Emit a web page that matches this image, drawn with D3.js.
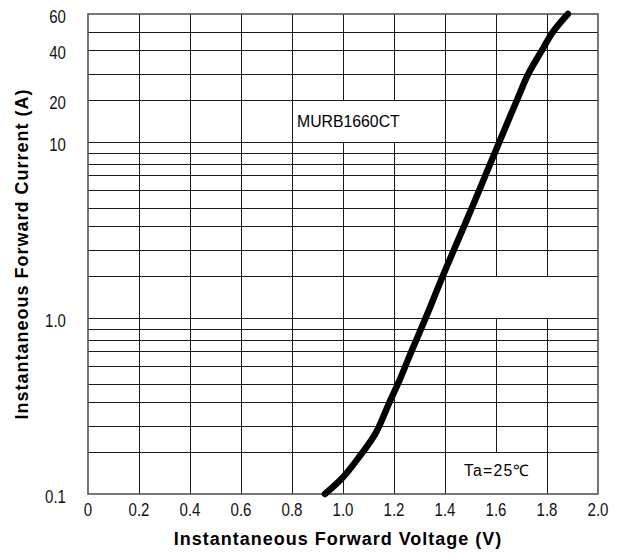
<!DOCTYPE html>
<html>
<head>
<meta charset="utf-8">
<script src="https://cdn.jsdelivr.net/npm/d3@7"></script>
<style>
  body { margin: 0; background: #fff; }
  .tick-label { font-family: "Liberation Sans", Arial, sans-serif; font-size: 17.5px; fill: #111; }
  .title { font-family: "Liberation Sans", Arial, sans-serif; font-size: 18px; font-weight: bold; letter-spacing: 1px; fill: #000; }
  .note { font-family: "Liberation Sans", Arial, sans-serif; font-size: 15.8px; fill: #000; }
</style>
</head>
<body>
<script>
// forward voltage (V) vs instantaneous current (A)
const voltage = [0.929, 1.0, 1.065, 1.127, 1.182, 1.222, 1.271, 1.324, 1.353, 1.391, 1.435, 1.506, 1.559, 1.613, 1.682, 1.727, 1.78, 1.824, 1.882];
const current = [0.1, 0.14, 0.19, 0.27, 0.40, 0.52, 0.71, 1.0, 1.43, 2.0, 3.0, 5.0, 7.0, 10, 20, 30, 40, 50, 60];

const xTicks = [0, 0.2, 0.4, 0.6, 0.8, 1.0, 1.2, 1.4, 1.6, 1.8, 2.0];
const xTickLabels = ["0", "0.2", "0.4", "0.6", "0.8", "1.0", "1.2", "1.4", "1.6", "1.8", "2.0"];
const yTicks = [0.1, 1, 10, 20, 40, 60];
const yTickLabels = ["0.1", "1.0", "10", "20", "40", "60"];
const yGrid = [0.1, 0.2, 0.3, 0.4, 0.5, 0.6, 0.7, 0.8, 0.9, 1, 2, 3, 4, 5, 6, 7, 8, 9, 10, 20, 30, 40, 50, 60];

// cells where the vertical grid line is left out (under the labels)
const gridGaps = [
  { v: 1.0, lo: 10, hi: 20 },
  { v: 1.2, lo: 10, hi: 20 },
  { v: 1.6, lo: 1, hi: 2 },
  { v: 1.8, lo: 1, hi: 2 },
  { v: 1.6, lo: 0.1, hi: 0.2 },
];

const width = 622, height = 554;
const margin = { top: 14, right: 24, bottom: 60, left: 88 };

const svg = d3.select("body").append("svg")
  .attr("width", width)
  .attr("height", height);

const x = d3.scaleLinear()
  .domain([0, 2])
  .range([margin.left, width - margin.right]);

// the printed log grid is not a true log: the spacing inside each decade is its own
const mant = d3.scaleLinear()
  .domain([1, 2, 3, 4, 5, 6, 7, 8, 9, 10])
  .range([0, 0.238, 0.388, 0.521, 0.628, 0.728, 0.813, 0.875, 0.9375, 1]);
const decades = v => {
  const e = Math.floor(Math.log10(v) + 1e-9);
  return e + mant(v / Math.pow(10, e));
};
const yUnits = d3.scaleLinear()
  .domain([decades(0.1), decades(60)])
  .range([height - margin.bottom, margin.top]);
const y = v => yUnits(decades(v));

const crisp = p => Math.round(p) + 0.5;

/* grid */
const grid = svg.append("g").attr("stroke", "#1a1a1a").attr("stroke-width", 1);

grid.selectAll("line.h")
  .data(yGrid.slice(1, -1))
  .enter().append("line")
  .attr("class", "h")
  .attr("x1", x(0)).attr("x2", x(2))
  .attr("y1", d => crisp(y(d))).attr("y2", d => crisp(y(d)));

// vertical lines split around the gaps
const vSegments = [];
xTicks.slice(1, -1).forEach(v => {
  const gaps = gridGaps.filter(g => Math.abs(g.v - v) < 1e-6).sort((a, b) => a.lo - b.lo);
  let from = 0.1;
  gaps.forEach(g => {
    if (g.lo > from) vSegments.push({ v, lo: from, hi: g.lo });
    from = g.hi;
  });
  vSegments.push({ v, lo: from, hi: 60 });
});

grid.selectAll("line.v")
  .data(vSegments)
  .enter().append("line")
  .attr("class", "v")
  .attr("x1", d => crisp(x(d.v))).attr("x2", d => crisp(x(d.v)))
  .attr("y1", d => y(d.lo)).attr("y2", d => y(d.hi));

/* frame */
svg.append("rect")
  .attr("x", x(0)).attr("y", y(60))
  .attr("width", x(2) - x(0)).attr("height", y(0.1) - y(60))
  .attr("fill", "none")
  .attr("stroke", "#555")
  .attr("stroke-width", 1.6);

/* curve */
const points = voltage.map((v, i) => [v, current[i]]);
const line = d3.line()
  .x(d => x(d[0]))
  .y(d => y(d[1]))
  .curve(d3.curveCatmullRom.alpha(0.5));

svg.append("path")
  .datum(points)
  .attr("d", line)
  .attr("fill", "none")
  .attr("stroke", "#000")
  .attr("stroke-width", 6.5)
  .attr("stroke-linecap", "round")
  .attr("stroke-linejoin", "round");

/* tick labels: narrow face, squeezed horizontally */
const squeeze = "scale(0.86,1)";

svg.selectAll("g.xt")
  .data(xTicks)
  .enter().append("g")
  .attr("class", "xt")
  .attr("transform", d => `translate(${x(d)},${height - margin.bottom + 22})`)
  .append("text")
  .attr("class", "tick-label")
  .attr("transform", squeeze)
  .attr("text-anchor", "middle")
  .text((d, i) => xTickLabels[i]);

svg.selectAll("g.yt")
  .data(yTicks)
  .enter().append("g")
  .attr("class", "yt")
  .attr("transform", d => `translate(${margin.left - 22},${y(d) + 8.5})`)
  .append("text")
  .attr("class", "tick-label")
  .attr("transform", squeeze)
  .attr("text-anchor", "end")
  .text((d, i) => yTickLabels[i]);

/* titles */
svg.append("text")
  .attr("class", "title")
  .attr("x", (x(0) + x(2)) / 2 - 5)
  .attr("y", height - 9)
  .attr("text-anchor", "middle")
  .text("Instantaneous Forward Voltage (V)");

svg.append("text")
  .attr("class", "title")
  .attr("transform", `translate(28, ${(y(0.1) + y(60)) / 2}) rotate(-90)`)
  .attr("text-anchor", "middle")
  .text("Instantaneous Forward Current (A)");

/* annotations */
svg.append("text")
  .attr("class", "note")
  .attr("x", x(0.8) + 5)
  .attr("y", y(20) + 27)
  .text("MURB1660CT");

svg.append("text")
  .attr("class", "note")
  .attr("x", x(1.4) + 19)
  .attr("y", y(0.2) + 24)
  .attr("letter-spacing", "1.2px")
  .text("Ta=25℃");
</script>
</body>
</html>
